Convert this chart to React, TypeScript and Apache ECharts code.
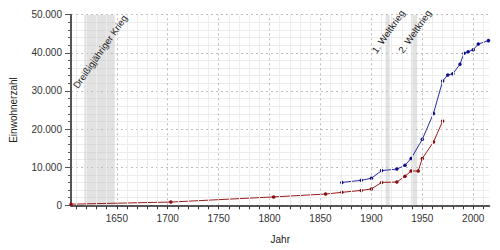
import React, { useEffect, useRef } from "react";
import * as echarts from "echarts";

const redYears = [1605, 1703, 1804, 1855, 1871, 1890, 1900, 1910, 1925, 1933, 1939, 1946, 1950, 1961, 1970];
const redValues = [300, 850, 2200, 2950, 3400, 3900, 4300, 6000, 6100, 7600, 9000, 9000, 12300, 16600, 22100];

const blueYears = [1871, 1890, 1900, 1910, 1925, 1933, 1939, 1950, 1961, 1970, 1975, 1980, 1987, 1991, 1995, 2000, 2005, 2015];
const blueValues = [6000, 6550, 7100, 9100, 9500, 10500, 12300, 17300, 24100, 32600, 34200, 34500, 37000, 39900, 40300, 40800, 42300, 43200];

const majorXTicks = [1650, 1700, 1750, 1800, 1850, 1900, 1950, 2000];
const minorXTicks = [1610, 1620, 1630, 1640, 1650, 1660, 1670, 1680, 1690, 1700, 1710, 1720, 1730, 1740, 1750, 1760, 1770, 1780, 1790, 1800, 1810, 1820, 1830, 1840, 1850, 1860, 1870, 1880, 1890, 1900, 1910, 1920, 1930, 1940, 1950, 1960, 1970, 1980, 1990, 2000, 2010];

const periodNames = ["Dreißigjähriger Krieg", "1. Weltkrieg", "2. Weltkrieg"];
const periodStarts = [1618, 1914, 1939];
const periodEnds = [1648, 1918, 1945];
const periodLabelY = [40300, 45600, 45600];

const FONT = "Liberation Sans, Arial, sans-serif";

export default function App() {
  const ref = useRef<HTMLDivElement>(null);
  useEffect(() => {
    if (!ref.current) return;
    const chart = echarts.init(ref.current, null, { renderer: "svg" });
    const fmt = (v: number) => v === 0 ? "0" : String(v).replace(/\B(?=(\d{3})+(?!\d))/g, ".");
    const gridMarkLines = [
      ...minorXTicks.filter((v) => majorXTicks.indexOf(v) < 0).map((v) => ({
        xAxis: v,
        lineStyle: { color: "#ececec", width: 1, type: "solid" as const },
      })),
      ...majorXTicks.map((v) => ({
        xAxis: v,
        lineStyle: { color: "#bdbdbd", width: 1, type: [2, 3] as any },
      })),
    ];
    chart.setOption({
      animation: false,
      grid: { left: 67.5, right: 10.5, top: 14.7, bottom: 44.7, containLabel: false },
      xAxis: {
        type: "value",
        min: 1605,
        max: 2016,
        name: "Jahr",
        nameLocation: "middle",
        nameGap: 29,
        nameTextStyle: { fontFamily: FONT, fontSize: 10, color: "#222" },
        axisLine: { show: true, onZero: false, lineStyle: { color: "#222", width: 1.5 } },
        axisTick: { show: true, length: 4, customValues: minorXTicks, lineStyle: { color: "#333" } },
        axisLabel: { customValues: majorXTicks, formatter: (v: number) => String(v), fontFamily: FONT, fontSize: 10, color: "#333", margin: 8 },
        splitLine: { show: false },
      },
      yAxis: {
        type: "value",
        min: 0,
        max: 50000,
        interval: 10000,
        name: "Einwohnerzahl",
        nameLocation: "middle",
        nameGap: 53,
        nameTextStyle: { fontFamily: FONT, fontSize: 10, color: "#222" },
        axisLine: { show: true, lineStyle: { color: "#555", width: 2 } },
        axisTick: { show: true, length: 6, lineStyle: { color: "#555" } },
        minorTick: { show: true, splitNumber: 5, length: 3, lineStyle: { color: "#555" } },
        axisLabel: { formatter: fmt, fontFamily: FONT, fontSize: 10, color: "#333", margin: 9 },
        splitLine: { show: true, lineStyle: { color: "#bdbdbd", width: 1, type: [2, 3] } },
        minorSplitLine: { show: true, lineStyle: { color: "#ececec", width: 1 } },
      },
      series: [
        {
          type: "line",
          data: [],
          z: 1,
          silent: true,
          markLine: {
            silent: true,
            symbol: ["none", "none"],
            label: { show: false },
            data: gridMarkLines,
          },
          markArea: {
            silent: true,
            itemStyle: { color: "rgba(185,185,185,0.42)" },
            label: { show: false },
            data: periodStarts.map((s, i) => [{ xAxis: s }, { xAxis: periodEnds[i] }]),
          },
        },
        {
          type: "line",
          z: 3,
          data: redYears.map((y, i) => [y, redValues[i]]),
          symbol: "circle",
          symbolSize: 3.5,
          lineStyle: { color: "#9b1c1c", width: 1 },
          itemStyle: { color: "#8b0d0d" },
        },
        {
          type: "line",
          z: 3,
          data: blueYears.map((y, i) => [y, blueValues[i]]),
          symbol: "circle",
          symbolSize: 3.5,
          lineStyle: { color: "#2a2aa8", width: 1 },
          itemStyle: { color: "#10108c" },
        },
      ],
    });
    const graphics = periodNames.map((name, i) => {
      const mid = (periodStarts[i] + periodEnds[i]) / 2;
      const p = chart.convertToPixel({ gridIndex: 0 }, [mid, periodLabelY[i]]) as number[];
      return {
        type: "text",
        x: p[0] + 0.5,
        y: p[1],
        rotation: (55 * Math.PI) / 180,
        silent: true,
        z: 10,
        style: {
          text: name,
          fontFamily: FONT,
          fontSize: 9.5,
          fill: "#222",
          textAlign: "center",
          textVerticalAlign: "middle",
        },
      };
    });
    chart.setOption({ graphic: graphics });
    return () => chart.dispose();
  }, []);
  return <div ref={ref} style={{ width: 500, height: 250, position: "absolute", left: 0, top: 0 }} />;
}
